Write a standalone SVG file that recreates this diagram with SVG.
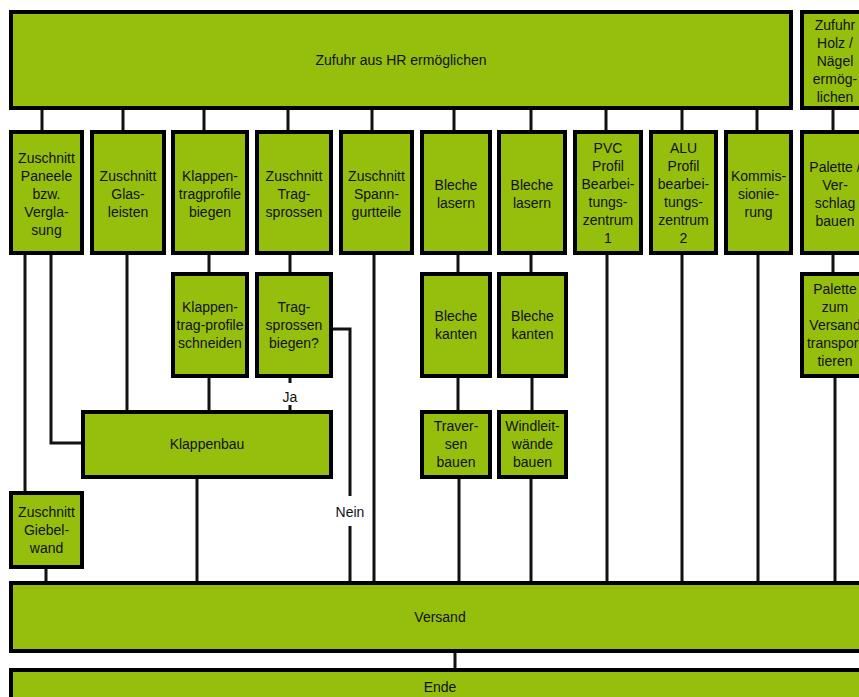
<svg xmlns="http://www.w3.org/2000/svg" width="859" height="697" viewBox="0 0 859 697">
<style>
.b{fill:#96bf0d;stroke:#000;stroke-width:4}
text{font-family:"Liberation Sans",Arial,sans-serif;font-size:14px;fill:#111;text-anchor:middle}
.c line,.c polyline{stroke:#111;stroke-width:3;fill:none}
.lbl{fill:#fff;stroke:none}
</style>
<rect width="859" height="697" fill="#fff"/>
<g class="c" id="connectors">
<line x1="42" y1="110" x2="42" y2="130"/>
<line x1="123" y1="110" x2="123" y2="130"/>
<line x1="204" y1="110" x2="204" y2="130"/>
<line x1="288" y1="110" x2="288" y2="130"/>
<line x1="372" y1="110" x2="372" y2="130"/>
<line x1="454" y1="110" x2="454" y2="130"/>
<line x1="531" y1="110" x2="531" y2="130"/>
<line x1="606" y1="110" x2="606" y2="130"/>
<line x1="682" y1="110" x2="682" y2="130"/>
<line x1="757" y1="110" x2="757" y2="130"/>
<line x1="833" y1="110" x2="833" y2="130"/>
<line x1="25" y1="255" x2="25" y2="491"/>
<polyline points="51,255 51,443 81,443"/>
<line x1="127" y1="255" x2="127" y2="410"/>
<line x1="209" y1="255" x2="209" y2="272"/>
<line x1="209" y1="378" x2="209" y2="410"/>
<line x1="290" y1="255" x2="290" y2="272"/>
<line x1="290" y1="378" x2="290" y2="410"/>
<polyline points="333,329 350,329 350,581"/>
<line x1="374" y1="255" x2="374" y2="581"/>
<line x1="458" y1="255" x2="458" y2="272"/>
<line x1="458" y1="378" x2="458" y2="410"/>
<line x1="459" y1="479" x2="459" y2="581"/>
<line x1="531" y1="255" x2="531" y2="272"/>
<line x1="532" y1="378" x2="532" y2="410"/>
<line x1="531" y1="479" x2="531" y2="581"/>
<line x1="607" y1="255" x2="607" y2="581"/>
<line x1="682" y1="255" x2="682" y2="581"/>
<line x1="758" y1="255" x2="758" y2="581"/>
<line x1="833" y1="255" x2="833" y2="272"/>
<line x1="835" y1="378" x2="835" y2="581"/>
<line x1="197" y1="479" x2="197" y2="581"/>
<line x1="46" y1="569" x2="46" y2="581"/>
<line x1="455" y1="653" x2="455" y2="668"/>
<rect class="lbl" x="278" y="383" width="24" height="22"/>
<text x="290" y="402">Ja</text>
<rect class="lbl" x="334" y="496" width="32" height="30"/>
<text x="350" y="517">Nein</text>
</g>
<g id="n-zufuhr-hr"><rect class="b" x="11" y="12" width="780" height="96"/><text x="401" y="65">Zufuhr aus HR ermöglichen</text></g>
<g id="n-zufuhr-holz"><rect class="b" x="802" y="12" width="66" height="96"/><text x="835"><tspan x="835" y="30">Zufuhr</tspan><tspan x="835" y="48">Holz /</tspan><tspan x="835" y="66">Nägel</tspan><tspan x="835" y="84">ermög-</tspan><tspan x="835" y="102">lichen</tspan></text></g>
<g id="n-paneele"><rect class="b" x="11" y="132" width="71" height="121"/><text><tspan x="46.5" y="163">Zuschnitt</tspan><tspan x="46.5" y="181">Paneele</tspan><tspan x="46.5" y="199">bzw.</tspan><tspan x="46.5" y="217">Vergla-</tspan><tspan x="46.5" y="235">sung</tspan></text></g>
<g id="n-glasleisten"><rect class="b" x="92" y="132" width="72" height="121"/><text><tspan x="128" y="181">Zuschnitt</tspan><tspan x="128" y="199">Glas-</tspan><tspan x="128" y="217">leisten</tspan></text></g>
<g id="n-klappentrag-biegen"><rect class="b" x="173" y="132" width="74" height="121"/><text><tspan x="210" y="181">Klappen-</tspan><tspan x="210" y="199">tragprofile</tspan><tspan x="210" y="217">biegen</tspan></text></g>
<g id="n-tragsprossen"><rect class="b" x="257" y="132" width="74" height="121"/><text><tspan x="294" y="181">Zuschnitt</tspan><tspan x="294" y="199">Trag-</tspan><tspan x="294" y="217">sprossen</tspan></text></g>
<g id="n-spanngurt"><rect class="b" x="341" y="132" width="71" height="121"/><text><tspan x="376.5" y="181">Zuschnitt</tspan><tspan x="376.5" y="199">Spann-</tspan><tspan x="376.5" y="217">gurtteile</tspan></text></g>
<g id="n-bleche-lasern-1"><rect class="b" x="422" y="132" width="68" height="121"/><text><tspan x="456" y="190">Bleche</tspan><tspan x="456" y="208">lasern</tspan></text></g>
<g id="n-bleche-lasern-2"><rect class="b" x="499" y="132" width="66" height="121"/><text><tspan x="532" y="190">Bleche</tspan><tspan x="532" y="208">lasern</tspan></text></g>
<g id="n-pvc"><rect class="b" x="575" y="132" width="66" height="121"/><text><tspan x="608" y="153">PVC</tspan><tspan x="608" y="171">Profil</tspan><tspan x="608" y="189">Bearbei-</tspan><tspan x="608" y="207">tungs-</tspan><tspan x="608" y="225">zentrum</tspan><tspan x="608" y="243">1</tspan></text></g>
<g id="n-alu"><rect class="b" x="651" y="132" width="65" height="121"/><text><tspan x="683.5" y="153">ALU</tspan><tspan x="683.5" y="171">Profil</tspan><tspan x="683.5" y="189">bearbei-</tspan><tspan x="683.5" y="207">tungs-</tspan><tspan x="683.5" y="225">zentrum</tspan><tspan x="683.5" y="243">2</tspan></text></g>
<g id="n-kommission"><rect class="b" x="726" y="132" width="65" height="121"/><text><tspan x="758.5" y="181">Kommis-</tspan><tspan x="758.5" y="199">sionie-</tspan><tspan x="758.5" y="217">rung</tspan></text></g>
<g id="n-palette-verschlag"><rect class="b" x="802" y="132" width="66" height="121"/><text><tspan x="835" y="172">Palette /</tspan><tspan x="835" y="190">Ver-</tspan><tspan x="835" y="208">schlag</tspan><tspan x="835" y="226">bauen</tspan></text></g>
<g id="n-klappentrag-schneiden"><rect class="b" x="173" y="274" width="74" height="102"/><text><tspan x="210" y="312">Klappen-</tspan><tspan x="210" y="330">trag-profile</tspan><tspan x="210" y="348">schneiden</tspan></text></g>
<g id="n-tragsprossen-biegen"><rect class="b" x="257" y="274" width="74" height="102"/><text><tspan x="294" y="312">Trag-</tspan><tspan x="294" y="330">sprossen</tspan><tspan x="294" y="348">biegen?</tspan></text></g>
<g id="n-bleche-kanten-1"><rect class="b" x="422" y="274" width="68" height="102"/><text><tspan x="456" y="321">Bleche</tspan><tspan x="456" y="339">kanten</tspan></text></g>
<g id="n-bleche-kanten-2"><rect class="b" x="499" y="274" width="67" height="102"/><text><tspan x="532.5" y="321">Bleche</tspan><tspan x="532.5" y="339">kanten</tspan></text></g>
<g id="n-palette-transport"><rect class="b" x="802" y="274" width="66" height="102"/><text><tspan x="835" y="294">Palette</tspan><tspan x="835" y="312">zum</tspan><tspan x="835" y="330">Versand</tspan><tspan x="835" y="348">transpor-</tspan><tspan x="835" y="366">tieren</tspan></text></g>
<g id="n-klappenbau"><rect class="b" x="83" y="412" width="248" height="65"/><text x="207" y="449">Klappenbau</text></g>
<g id="n-traversen"><rect class="b" x="422" y="412" width="68" height="65"/><text><tspan x="456" y="431">Traver-</tspan><tspan x="456" y="449">sen</tspan><tspan x="456" y="467">bauen</tspan></text></g>
<g id="n-windleit"><rect class="b" x="499" y="412" width="67" height="65"/><text><tspan x="532.5" y="431">Windleit-</tspan><tspan x="532.5" y="449">wände</tspan><tspan x="532.5" y="467">bauen</tspan></text></g>
<g id="n-giebelwand"><rect class="b" x="11" y="493" width="71" height="74"/><text><tspan x="46.5" y="517">Zuschnitt</tspan><tspan x="46.5" y="535">Giebel-</tspan><tspan x="46.5" y="553">wand</tspan></text></g>
<g id="n-versand"><rect class="b" x="11" y="583" width="858" height="68"/><text x="440" y="622">Versand</text></g>
<g id="n-ende"><rect class="b" x="11" y="670" width="858" height="34"/><text x="440" y="692">Ende</text></g>
</svg>
